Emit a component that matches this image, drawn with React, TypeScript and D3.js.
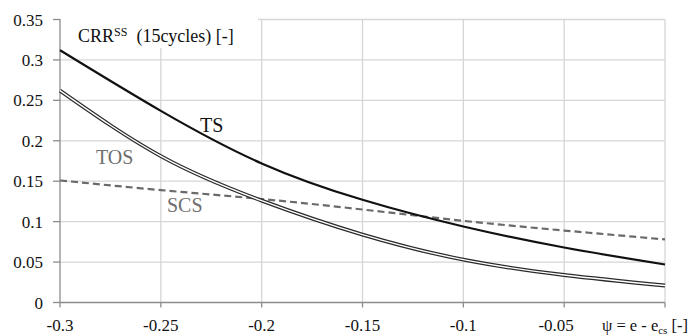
import * as d3 from "d3"

// psi = e - e_cs
const psiValues = [-0.3, -0.25, -0.2, -0.15, -0.1, -0.05, 0]
const tsValues = [0.312, 0.237, 0.172, 0.127, 0.094, 0.068, 0.047]
const tosValues = [0.262, 0.181, 0.126, 0.084, 0.053, 0.034, 0.021]
const scsValues = [0.151, 0.139, 0.128, 0.115, 0.101, 0.089, 0.078]

const xTicks = [-0.3, -0.25, -0.2, -0.15, -0.1, -0.05, 0]
const xTickLabels = ["-0.3", "-0.25", "-0.2", "-0.15", "-0.1", "-0.05", ""]
const yTicks = [0, 0.05, 0.1, 0.15, 0.2, 0.25, 0.3, 0.35]
const yTickLabels = ["0", "0.05", "0.1", "0.15", "0.2", "0.25", "0.3", "0.35"]

const W = 694
const H = 336
// no serif face is available in the sandbox, so fall back to Arial-metric Liberation Sans
const FONT = '"Liberation Serif", "Liberation Sans", Arial, sans-serif'

export default function App() {
  const x = d3.scaleLinear().domain([-0.3, 0]).range([60, 665])
  const y = d3.scaleLinear().domain([0, 0.35]).range([302.5, 19.5])

  const line = d3
    .line<number>()
    .x((_, i) => x(psiValues[i]))
    .y((d) => y(d))
    .curve(d3.curveNatural)

  const grid = "#d6d6d6"
  const axis = "#8c8c8c"

  return (
    <svg
      width={W}
      height={H}
      viewBox={`0 0 ${W} ${H}`}
      style={{ position: "absolute", left: 0, top: 0, background: "white", fontFamily: FONT }}
    >
      {/* grid */}
      {yTicks.slice(1).map((t) => (
        <line key={`gy${t}`} x1={x(-0.3)} x2={x(0)} y1={y(t)} y2={y(t)} stroke={grid} strokeWidth={1.3} />
      ))}
      {xTicks.slice(1).map((t) => (
        <line key={`gx${t}`} x1={x(t)} x2={x(t)} y1={y(0.35)} y2={y(0)} stroke={grid} strokeWidth={1.3} />
      ))}

      {/* y-axis title box covers the grid */}
      <rect x={61} y={18} width={197} height={30} fill="white" />
      <text x={78} y={41.5} fontSize={18} fill="#111">
        CRR
        <tspan fontSize={12} dy={-6}>SS</tspan>
        <tspan dy={6} xmlSpace="preserve">{"  (15cycles) [-]"}</tspan>
      </text>

      {/* axes */}
      <line x1={x(-0.3)} x2={x(-0.3)} y1={y(0.35)} y2={y(0)} stroke={axis} strokeWidth={1.3} />
      <line x1={x(-0.3)} x2={x(0)} y1={y(0)} y2={y(0)} stroke={axis} strokeWidth={1.3} />
      {yTicks.map((t, i) => (
        <g key={`ty${t}`}>
          <line x1={53} x2={x(-0.3)} y1={y(t)} y2={y(t)} stroke={axis} strokeWidth={1.3} />
          <text x={43} y={y(t)} dy="0.36em" textAnchor="end" fontSize={17} fill="#111">
            {yTickLabels[i]}
          </text>
        </g>
      ))}
      {xTicks.map((t, i) => (
        <g key={`tx${t}`}>
          <line x1={x(t)} x2={x(t)} y1={y(0)} y2={y(0) + 5} stroke={axis} strokeWidth={1.3} />
          <text x={x(t) + (t === -0.05 ? -8 : 0)} y={331} textAnchor="middle" fontSize={17} fill="#111">
            {xTickLabels[i]}
          </text>
        </g>
      ))}
      <text x={688} y={331} fontSize={16.5} fill="#111" textAnchor="end" xmlSpace="preserve">
        {"ψ = e - e"}
        <tspan fontSize={11} dy={3}>cs</tspan>
        <tspan dy={-3}>{" [-]"}</tspan>
      </text>

      {/* SCS dashed */}
      <path d={line(scsValues) ?? ""} fill="none" stroke="#6a6a6a" strokeWidth={2.2} strokeDasharray="7,4" />
      {/* TOS double line */}
      <path d={line(tosValues) ?? ""} fill="none" stroke="#2a2a2a" strokeWidth={3.8} />
      <path d={line(tosValues) ?? ""} fill="none" stroke="white" strokeWidth={1.4} />
      {/* TS */}
      <path d={line(tsValues) ?? ""} fill="none" stroke="#111" strokeWidth={2.2} />

      {/* series labels */}
      <text x={200} y={131.5} fontSize={20} fill="#111">TS</text>
      <text x={96} y={164} fontSize={20} fill="#6e6e6e">TOS</text>
      <text x={167} y={211.5} fontSize={20} fill="#6e6e6e">SCS</text>
    </svg>
  )
}
